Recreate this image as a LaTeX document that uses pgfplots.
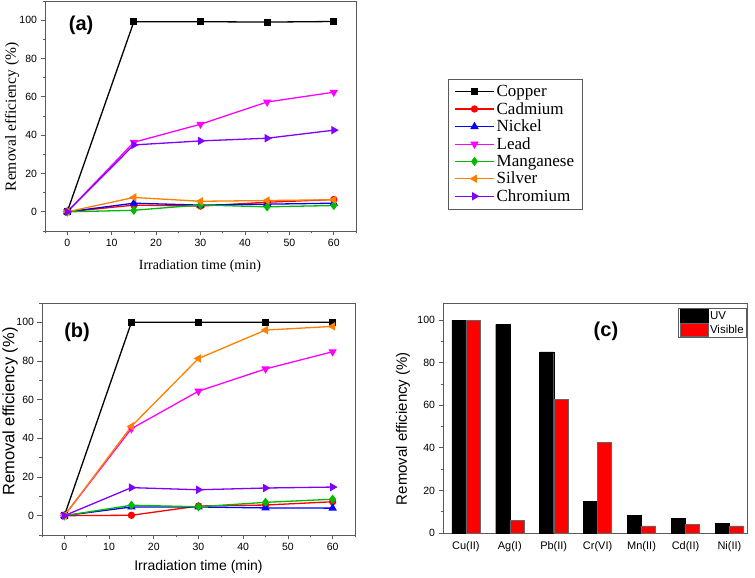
\documentclass[border=0pt]{standalone}
\usepackage{fontspec}
\setmainfont{Liberation Sans}
\newfontfamily\tnr{Liberation Serif}
\usepackage{pgfplots}
\pgfplotsset{compat=1.18}
\definecolor{cOrange}{RGB}{255,128,0}
\definecolor{cViolet}{RGB}{128,0,255}
\definecolor{cGreen}{RGB}{0,185,0}
\definecolor{cMag}{RGB}{255,0,255}
\definecolor{axgray}{RGB}{90,90,90}

\pgfplotstableread{
t   cu    cd   ni   pb    mn   ag   cr
0   0     0    0    0     0    0    0
15  99.2  3.5  4.5  36.3  0.8  7.5  34.9
30  99.2  3.0  3.5  45.7  3.6  5.5  37.0
45  99.0  5.0  4.0  57.3  2.6  5.9  38.4
60  99.3  6.4  4.5  62.4  3.3  6.3  42.6
}\dataA

\pgfplotstableread{
t   cu    cd   ni   pb    mn   ag   cr
0   0     0    0    0     0    0    0
15  100   0.2  4.5  45.0  5.4  46.2 14.5
30  100   5.0  4.5  64.4  4.6  81.3 13.4
45  100   5.5  4.0  75.9  6.9  96.0 14.3
60  100   7.2  3.9  84.8  8.5  97.9 14.8
}\dataB

\pgfplotstableread{
x  uv    vis
0  100   100
1  98.0  6.1
2  85.1  62.7
3  14.8  42.6
4  8.4   3.4
5  7.0   3.9
6  4.6   3.4
}\dataC

\pgfplotsset{
  common/.style={
    scale only axis,
    axis line style={axgray, line width=0.8pt},
    tick align=outside,
    tick pos=left,
    every tick/.style={axgray, line width=0.7pt},
    major tick length=4.5pt,
    minor tick length=2.5pt,
    /pgf/number format/assume math mode=true,
    tick label style={font=\fontsize{10.5}{12}\selectfont},
    clip=false,
  },
  lineax/.style={
    common,
    xmin=-5, xmax=65, ymin=-10, ymax=110,
    xtick={0,10,...,60}, ytick={0,20,...,100},
    minor xtick={-5,5,15,...,65}, minor ytick={-10,10,30,...,110},
  },
  sAll/.style={line width=1.3pt},
  sCu/.style={sAll, black, mark=square*, mark size=2.8pt},
  sCd/.style={sAll, red, mark=*, mark size=3pt},
  sNi/.style={sAll, blue, mark=triangle*, mark size=3.6pt},
  sPb/.style={sAll, cMag, mark=triangle*, mark size=3.6pt, mark options={rotate=180}},
  sMn/.style={sAll, cGreen, mark=diamond*, mark size=3.6pt},
  sAg/.style={sAll, cOrange, mark=triangle*, mark size=3.6pt, mark options={rotate=90}},
  sCr/.style={sAll, cViolet, mark=triangle*, mark size=3.6pt, mark options={rotate=270}},
}

\begin{document}
\begin{tikzpicture}
\useasboundingbox (0,0) rectangle (755pt,578pt);

% ---------------- (a)
\begin{axis}[lineax,
  at={(45pt,347pt)}, anchor=south west, width=311pt, height=230pt,
  xlabel={\tnr\fontsize{14}{16}\selectfont Irradiation time (min)},
  ylabel={\tnr\fontsize{15.5}{17}\selectfont Removal efficiency (\%)},
  xlabel style={at={(axis description cs:0.498,-0.152)}, anchor=center},
  ylabel style={at={(axis description cs:-0.106,0.496)}, anchor=center},
  legend style={at={(1.296,0.661)}, anchor=north west, draw=axgray, line width=0.6pt,
    font=\tnr\fontsize{17}{19}\selectfont, inner xsep=6pt, inner ysep=4pt,
    row sep=0.3pt, cells={anchor=west}},
  legend cell align=left,
  legend image code/.code={\draw[mark repeat=2,mark phase=2,#1] plot coordinates {(0pt,0pt) (19.5pt,0pt) (39pt,0pt)};},
]
\addplot[sCu] table[x=t,y=cu]{\dataA};
\addplot[sCd] table[x=t,y=cd]{\dataA};
\addplot[sNi] table[x=t,y=ni]{\dataA};
\addplot[sPb] table[x=t,y=pb]{\dataA};
\addplot[sMn] table[x=t,y=mn]{\dataA};
\addplot[sAg] table[x=t,y=ag]{\dataA};
\addplot[sCr] table[x=t,y=cr]{\dataA};
\legend{Copper,Cadmium,Nickel,Lead,Manganese,Silver,Chromium}
\node[font=\bfseries\fontsize{20}{24}\selectfont] at (rel axis cs:0.116,0.896) {(a)};
\end{axis}

% ---------------- (b)
\begin{axis}[lineax,
  at={(42pt,43pt)}, anchor=south west, width=313pt, height=232pt,
  xlabel={\fontsize{14}{16}\selectfont Irradiation time (min)},
  ylabel={\fontsize{16.5}{18}\selectfont Removal efficiency (\%)},
  xlabel style={at={(axis description cs:0.5,-0.138)}, anchor=center},
  ylabel style={at={(axis description cs:-0.102,0.532)}, anchor=center},
]
\addplot[sCu] table[x=t,y=cu]{\dataB};
\addplot[sCd] table[x=t,y=cd]{\dataB};
\addplot[sNi] table[x=t,y=ni]{\dataB};
\addplot[sPb] table[x=t,y=pb]{\dataB};
\addplot[sMn] table[x=t,y=mn]{\dataB};
\addplot[sAg] table[x=t,y=ag]{\dataB};
\addplot[sCr] table[x=t,y=cr]{\dataB};
\node[font=\bfseries\fontsize{20}{24}\selectfont] at (rel axis cs:0.112,0.875) {(b)};
\end{axis}

% ---------------- (c)
\begin{axis}[common,
  at={(443pt,45pt)}, anchor=south west, width=304pt, height=230pt,
  ybar=0pt, bar width=0.32,
  xmin=-0.52, xmax=6.4, ymin=0, ymax=108,
  xtick={0,...,6},
  xticklabels={Cu(II),Ag(I),Pb(II),Cr(VI),Mn(II),Cd(II),Ni(II)},
  x tick label style={font=\fontsize{11}{13}\selectfont},
  xtick style={draw=none},
  ytick={0,20,...,100}, minor ytick={10,30,...,90},
  ylabel={\fontsize{15}{17}\selectfont Removal efficiency (\%)},
  ylabel style={at={(axis description cs:-0.132,0.454)}, anchor=center},
  legend style={at={(1.0,0.978)}, anchor=north east, draw=axgray, line width=0.6pt,
    font=\fontsize{11.5}{12}\selectfont, inner sep=1pt, row sep=0pt, cells={anchor=west}},
  legend cell align=left,
  legend image code/.code={\draw[#1] (0pt,-6.5pt) rectangle (28pt,6.5pt);},
]
\addplot[fill=black, draw=black, line width=0.4pt] table[x=x,y=uv]{\dataC};
\addplot[fill=red, draw=black!60, line width=0.4pt] table[x=x,y=vis]{\dataC};
\legend{UV,Visible}
\node[font=\bfseries\fontsize{20}{24}\selectfont] at (rel axis cs:0.536,0.878) {(c)};
\end{axis}
\end{tikzpicture}
\end{document}
